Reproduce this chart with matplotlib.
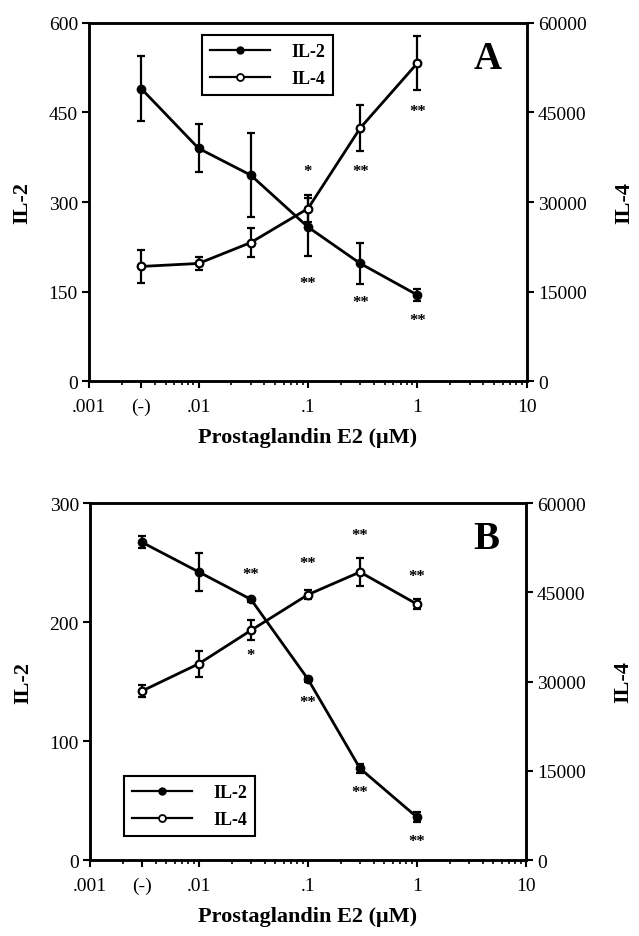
import numpy as np
import matplotlib
matplotlib.use('Agg')
import matplotlib.pyplot as plt
from matplotlib.lines import Line2D
from matplotlib.ticker import FixedLocator, NullFormatter

plt.rcParams['font.family'] = ['Liberation Serif', 'DejaVu Serif']

# ===== data =====
dose = [0.003, 0.01, 0.03, 0.1, 0.3, 1]     # (-) control drawn at 0.003
xtick_pos = [0.001, 0.003, 0.01, 0.1, 1, 10]
xtick_lab = ['.001', '(-)', '.01', '.1', '1', '10']
il4_ticks = [0, 15000, 30000, 45000, 60000]

# panel A
il2_A = [490, 390, 345, 258, 197, 144]
il2_A_err = [55, 40, 70, 48, 35, 10]
il2_A_ticks = [0, 150, 300, 450, 600]
il4_A = [19200, 19700, 23200, 28900, 42400, 53300]
il4_A_err = [2700, 1100, 2500, 2300, 3800, 4500]
star_A_x = [0.1, 0.1, 0.3, 0.3, 1, 1]
star_A_y = [352, 164, 352, 132, 452, 102]       # in IL-2 units
star_A_t = ['*', '**', '**', '**', '**', '**']

# panel B
il2_B = [267, 242, 219, 152, 77, 36]
il2_B_err = [5, 16, 2, 2, 4, 4]
il2_B_ticks = [0, 100, 200, 300]
il4_B = [28400, 33000, 38600, 44600, 48400, 43000]
il4_B_err = [1000, 2200, 1700, 800, 2300, 800]
star_B_x = [0.03, 0.03, 0.1, 0.1, 0.3, 0.3, 1, 1]
star_B_y = [240, 172, 250, 133, 273, 57, 239, 16]
star_B_t = ['**', '*', '**', '**', '**', '**', '**', '**']

LW = 2.0
FS_TICK = 14
FS_LAB = 16
FS_LEG = 13


def panel(rect, il2, il2_err, il2_ticks, il4, il4_err, sx, sy, st,
          letter, leg_loc, leg_anchor):
    ax = fig.add_axes(rect)
    ax2 = ax.twinx()

    ax.errorbar(dose, il2, yerr=il2_err, color='k', lw=LW, marker='o', ms=6,
                mfc='k', mec='k', capsize=3, elinewidth=1.6, capthick=1.6,
                zorder=3)
    ax2.errorbar(dose, il4, yerr=il4_err, color='k', lw=LW, marker='o', ms=5.5,
                 mfc='white', mec='k', mew=1.6, capsize=3, elinewidth=1.6,
                 capthick=1.6, zorder=3)

    ax.set_xscale('log')
    ax.set_xlim(0.001, 10)
    ax.set_ylim(0, il2_ticks[-1])
    ax.set_yticks(il2_ticks)
    ax2.set_ylim(0, il4_ticks[-1])
    ax2.set_yticks(il4_ticks)

    ax.xaxis.set_major_locator(FixedLocator(xtick_pos))
    ax.set_xticklabels(xtick_lab)
    minors = [m * 10.0 ** e for e in range(-3, 1) for m in range(2, 10)]
    ax.xaxis.set_minor_locator(FixedLocator(minors))
    ax.xaxis.set_minor_formatter(NullFormatter())

    ax.tick_params(axis='x', which='major', direction='out', length=5,
                   width=1.5, labelsize=FS_TICK, pad=7)
    ax.tick_params(axis='x', which='minor', direction='out', length=3,
                   width=1.2)
    ax.tick_params(axis='y', direction='out', length=5, width=1.5,
                   labelsize=FS_TICK, pad=3)
    ax2.tick_params(axis='y', direction='out', length=5, width=1.5,
                    labelsize=FS_TICK, pad=3)
    for a in (ax, ax2):
        for sp in a.spines.values():
            sp.set_linewidth(1.8)

    ax.set_xlabel('Prostaglandin E2 (\u03bcM)', fontsize=FS_LAB,
                  fontweight='bold', labelpad=9)
    ax.set_ylabel('IL-2', fontsize=FS_LAB, fontweight='bold', labelpad=12)
    ax2.set_ylabel('IL-4', fontsize=FS_LAB, fontweight='bold', labelpad=20)

    # significance marks
    for x, y, t in zip(sx, sy, st):
        ax.text(x, y, t, ha='center', va='center', fontsize=12,
                fontweight='bold')

    ax.text(0.91, 0.9, letter, transform=ax.transAxes, fontsize=28,
            fontweight='bold', ha='center', va='center')

    # legend: plain line + marker, no error bars
    handles = [Line2D([], [], color='k', lw=1.6, marker='o', ms=5, mfc='k'),
               Line2D([], [], color='k', lw=1.6, marker='o', ms=5,
                      mfc='white', mew=1.3)]
    leg = ax2.legend(handles, ['IL-2', 'IL-4'], loc=leg_loc,
                     bbox_to_anchor=leg_anchor, fancybox=False,
                     edgecolor='k', framealpha=1,
                     prop={'size': FS_LEG, 'weight': 'bold'},
                     handlelength=3.3, handletextpad=1.2, borderpad=0.45,
                     labelspacing=0.55, borderaxespad=0)
    leg.get_frame().set_linewidth(1.5)
    return ax


fig = plt.figure(figsize=(6.39, 9.37), dpi=100)

panel([0.1393, 0.5923, 0.6854, 0.3821], il2_A, il2_A_err, il2_A_ticks,
      il4_A, il4_A_err, star_A_x, star_A_y, star_A_t,
      'A', 'upper left', (0.258, 0.966))
panel([0.1408, 0.0811, 0.6823, 0.3810], il2_B, il2_B_err, il2_B_ticks,
      il4_B, il4_B_err, star_B_x, star_B_y, star_B_t,
      'B', 'lower left', (0.078, 0.067))

fig.savefig('out.png', dpi=100)
